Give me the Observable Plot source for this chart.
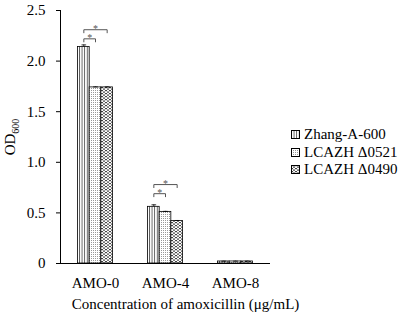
<!DOCTYPE html>
<html>
<head>
<meta charset="utf-8">
<script src="https://cdn.jsdelivr.net/npm/d3@7"></script>
<script src="https://cdn.jsdelivr.net/npm/@observablehq/plot@0.6"></script>
<style>
  body { margin: 0; background: white; }
  #wrap { position: relative; width: 403px; height: 316px; font-family: "Liberation Serif", "Times New Roman", serif; }
  #legend { position: absolute; left: 291px; top: 126px; font-size: 15px; color: #000; }
  #legend .row { display: flex; align-items: center; height: 17.5px; white-space: nowrap; }
  #legend svg { margin-right: 4px; }
</style>
</head>
<body>
<svg width="0" height="0" style="position:absolute">
  <defs>
    <pattern id="pz" width="2.6" height="4" patternUnits="userSpaceOnUse">
      <rect width="2.6" height="4" fill="white"/>
      <rect x="0" width="0.9" height="4" fill="#555"/>
    </pattern>
    <pattern id="p1" width="2" height="2" patternUnits="userSpaceOnUse">
      <rect width="2" height="2" fill="white"/>
      <rect width="1" height="1" fill="#999"/>
    </pattern>
    <pattern id="p2" width="4" height="3" patternUnits="userSpaceOnUse">
      <rect width="4" height="3" fill="white"/>
      <rect x="0" y="0" width="2" height="1.2" fill="#444"/>
      <rect x="2" y="1.5" width="2" height="1.2" fill="#444"/>
    </pattern>
  </defs>
</svg>
<div id="wrap"></div>
<script>
const groups = ["AMO-0", "AMO-4", "AMO-8"];
const series = ["Zhang-A-600", "LCAZH \u03940521", "LCAZH \u03940490"];
const zhangValues = [2.14, 0.56, 0.02];
const d0521Values = [1.74, 0.51, 0.02];
const d0490Values = [1.74, 0.42, 0.02];
const zhangErr = [0.02, 0.02, 0.003];
const d0521Err = [0.005, 0.005, 0.003];
const d0490Err = [0.005, 0.005, 0.003];
const yTicks = [0, 0.5, 1.0, 1.5, 2.0, 2.5];
const yLabel = "OD600";
const xTitle = "Concentration of amoxicillin (\u03bcg/mL)";
// significance brackets: group, series index from, series index to, height
const bracketGroups = ["AMO-0", "AMO-0", "AMO-4", "AMO-4"];
const bracketFrom = [0, 0, 0, 0];
const bracketTo = [2, 1, 2, 1];
const bracketY = [2.31, 2.22, 0.78, 0.69];
const bracketLabel = ["*", "*", "*", "*"];

const patterns = ["url(#pz)", "url(#p1)", "url(#p2)"];

const valueSets = [zhangValues, d0521Values, d0490Values];
const errSets = [zhangErr, d0521Err, d0490Err];
const rows = [];
groups.forEach((g, gi) => {
  series.forEach((s, si) => {
    rows.push({group: g, series: s, si, value: valueSets[si][gi], err: errSets[si][gi]});
  });
});

const bracketPts = [];
const starRows = [];
bracketGroups.forEach((g, i) => {
  const a = bracketFrom[i] - 1, b = bracketTo[i] - 1, y = bracketY[i], drop = 0.03;
  bracketPts.push({id: i, group: g, x: a, y: y - drop});
  bracketPts.push({id: i, group: g, x: a, y: y});
  bracketPts.push({id: i, group: g, x: b, y: y});
  bracketPts.push({id: i, group: g, x: b, y: y - drop});
  starRows.push({group: g, x: (a + b) / 2, y, label: bracketLabel[i]});
});

const chart = Plot.plot({
  width: 403,
  height: 316,
  marginLeft: 59,
  marginRight: 133,
  marginTop: 10,
  marginBottom: 53,
  style: {fontFamily: "'Liberation Serif', 'Times New Roman', serif", fontSize: "15px", color: "#000", background: "white"},
  fx: {domain: groups, paddingInner: 0, paddingOuter: 0},
  x: {domain: [-3, 3], axis: null},
  y: {domain: [0, 2.5]},
  color: {domain: series, range: patterns},
  marks: [
    Plot.rectY(rows, {fx: "group", x1: d => d.si - 1.5, x2: d => d.si - 0.5, y1: 0, y2: "value", fill: "series", stroke: "#000", strokeWidth: 0.8}),
    Plot.ruleX(rows, {fx: "group", x: d => d.si - 1, y1: "value", y2: d => d.value + d.err, stroke: "#000", strokeWidth: 0.8}),
    Plot.link(rows, {fx: "group", x1: d => d.si - 1.2, x2: d => d.si - 0.8, y1: d => d.value + d.err, y2: d => d.value + d.err, stroke: "#000", strokeWidth: 0.8}),
    Plot.line(bracketPts, {fx: "group", x: "x", y: "y", z: "id", stroke: "#555", strokeWidth: 1}),
    Plot.text(starRows, {fx: "group", x: "x", y: "y", text: "label", fontSize: 10, fill: "#555", lineAnchor: "middle", dy: -1}),
    Plot.ruleY([0], {stroke: "#000", strokeWidth: 1}),
    Plot.ruleX([-3], {facetAnchor: "left", stroke: "#000", strokeWidth: 1}),
    Plot.axisY({ticks: yTicks, tickFormat: d => d === 0 ? "0" : d.toFixed(1), tickSize: 4, tickPadding: 11, label: yLabel, labelAnchor: "center", labelArrow: "none", labelOffset: 56}),
    Plot.axisFx({anchor: "bottom", tickSize: 0, tickPadding: 14, label: null}),
    Plot.text([xTitle], {facet: "super", frameAnchor: "bottom", dx: 20, dy: 45, lineAnchor: "bottom", fontSize: 15})
  ]
});

document.getElementById("wrap").appendChild(chart);

// subscript for the y-axis label
d3.select(chart).selectAll("text").each(function() {
  if (this.textContent === yLabel) {
    const t = d3.select(this);
    t.text("OD");
    t.append("tspan").attr("font-size", "10px").attr("dy", "0.35em").text("600");
  }
});

// legend
const legend = d3.select("#wrap").append("div").attr("id", "legend");
series.forEach((s, i) => {
  const row = legend.append("div").attr("class", "row");
  const sw = row.append("svg").attr("width", 9).attr("height", 9);
  sw.append("rect").attr("x", 0.5).attr("y", 0.5).attr("width", 8).attr("height", 8)
    .attr("fill", patterns[i]).attr("stroke", "#000").attr("stroke-width", 1);
  row.append("span").text(s);
});
</script>
</body>
</html>
